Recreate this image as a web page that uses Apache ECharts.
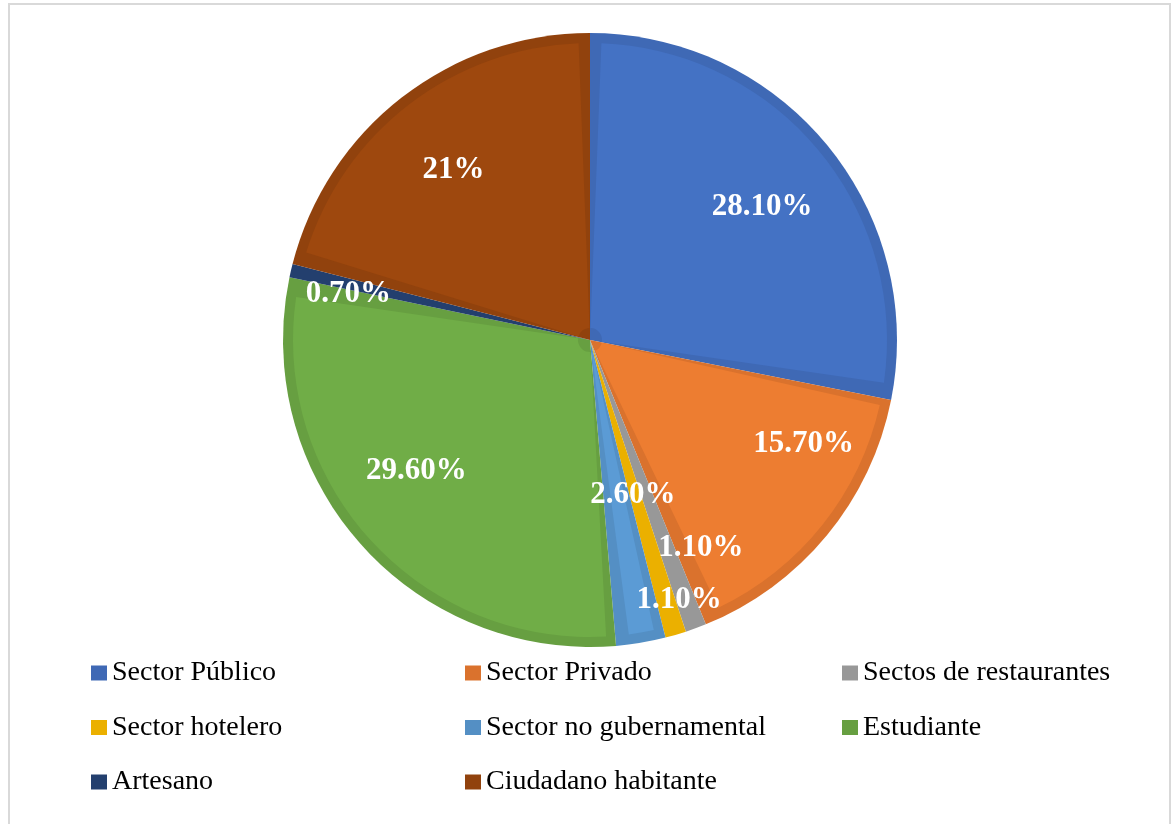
<!DOCTYPE html>
<html>
<head>
<meta charset="utf-8">
<script src="https://cdn.jsdelivr.net/npm/echarts@6/dist/echarts.min.js"></script>
<style>
html,body{margin:0;padding:0;background:#fff;}
#chart{width:1172px;height:824px;}
</style>
</head>
<body>
<div id="chart"></div>
<script>
// ---- data ----
const categories = [
  'Sector Público', 'Sector Privado', 'Sectos de restaurantes', 'Sector hotelero',
  'Sector no gubernamental', 'Estudiante', 'Artesano', 'Ciudadano habitante'
];
const values = [28.1, 15.7, 1.1, 1.1, 2.6, 29.6, 0.7, 21];
const labelTexts = ['28.10%', '15.70%', '1.10%', '1.10%', '2.60%', '29.60%', '0.70%', '21%'];

// ---- styles ----
const fillColors = ['#4472C4', '#ED7D31', '#A5A5A5', '#FFC000', '#5B9BD5', '#70AD47', '#264478', '#9E480E'];
const edgeColors = ['#3F69B5', '#DA722D', '#989898', '#EBB000', '#548FC4', '#679F41', '#233F6E', '#91420D'];
const labelNudge = [[0, 8], [42, -38], [34, -1], [27, 46], [6, -64], [-7, -17], [-25, 4], [0, 6]];
const legendCols = [
  ['Sector Público', 'Sector hotelero', 'Artesano'],
  ['Sector Privado', 'Sector no gubernamental', 'Ciudadano habitante'],
  ['Sectos de restaurantes', 'Estudiante']
];
const legendLeft = [91, 465, 842];

const serif = '"Liberation Serif", "Times New Roman", serif';
const center = [590, 340];

const chart = echarts.init(document.getElementById('chart'), null, {renderer: 'canvas'});

const baseData = categories.map((c, i) => ({name: c, value: values[i], itemStyle: {color: edgeColors[i]}}));
const innerData = categories.map((c, i) => ({name: c, value: values[i], itemStyle: {color: fillColors[i]}}));
const labelData = categories.map((c, i) => ({name: c, value: values[i]}));

const option = {
  animation: false,
  backgroundColor: '#ffffff',
  graphic: [{
    type: 'rect', z: -10,
    shape: {x: 9, y: 4, width: 1161, height: 840},
    style: {fill: 'none', stroke: '#D9D9D9', lineWidth: 2}
  }],
  legend: legendCols.map((col, k) => ({
    orient: 'vertical',
    left: legendLeft[k],
    top: 658,
    padding: 0,
    data: col,
    icon: 'rect',
    itemWidth: 16,
    itemHeight: 15,
    itemGap: 24.5,
    selectedMode: false,
    textStyle: {fontFamily: serif, fontSize: 28, color: '#000', lineHeight: 30}
  })),
  series: [
    {
      type: 'pie', name: 'base', center: center, radius: [0, 307],
      startAngle: 90, clockwise: true, silent: true,
      label: {show: false}, labelLine: {show: false},
      data: baseData
    },
    {
      type: 'pie', name: 'inner', center: center, radius: [12, 297],
      startAngle: 90, clockwise: true, silent: true, padAngle: 4.4,
      label: {show: false}, labelLine: {show: false},
      data: innerData
    },
    {
      type: 'pie', name: 'labels', center: center, radius: [132, 307],
      startAngle: 90, clockwise: true, silent: true,
      itemStyle: {color: 'rgba(0,0,0,0)'},
      labelLine: {show: false},
      label: {
        show: true, position: 'inside',
        formatter: p => labelTexts[p.dataIndex],
        fontFamily: serif, fontWeight: 'bold', fontSize: 31, color: '#ffffff'
      },
      labelLayout: function (params) {
        const n = labelNudge[params.dataIndex];
        return {dx: n[0], dy: n[1]};
      },
      data: labelData
    }
  ]
};
chart.setOption(option);
</script>
</body>
</html>
